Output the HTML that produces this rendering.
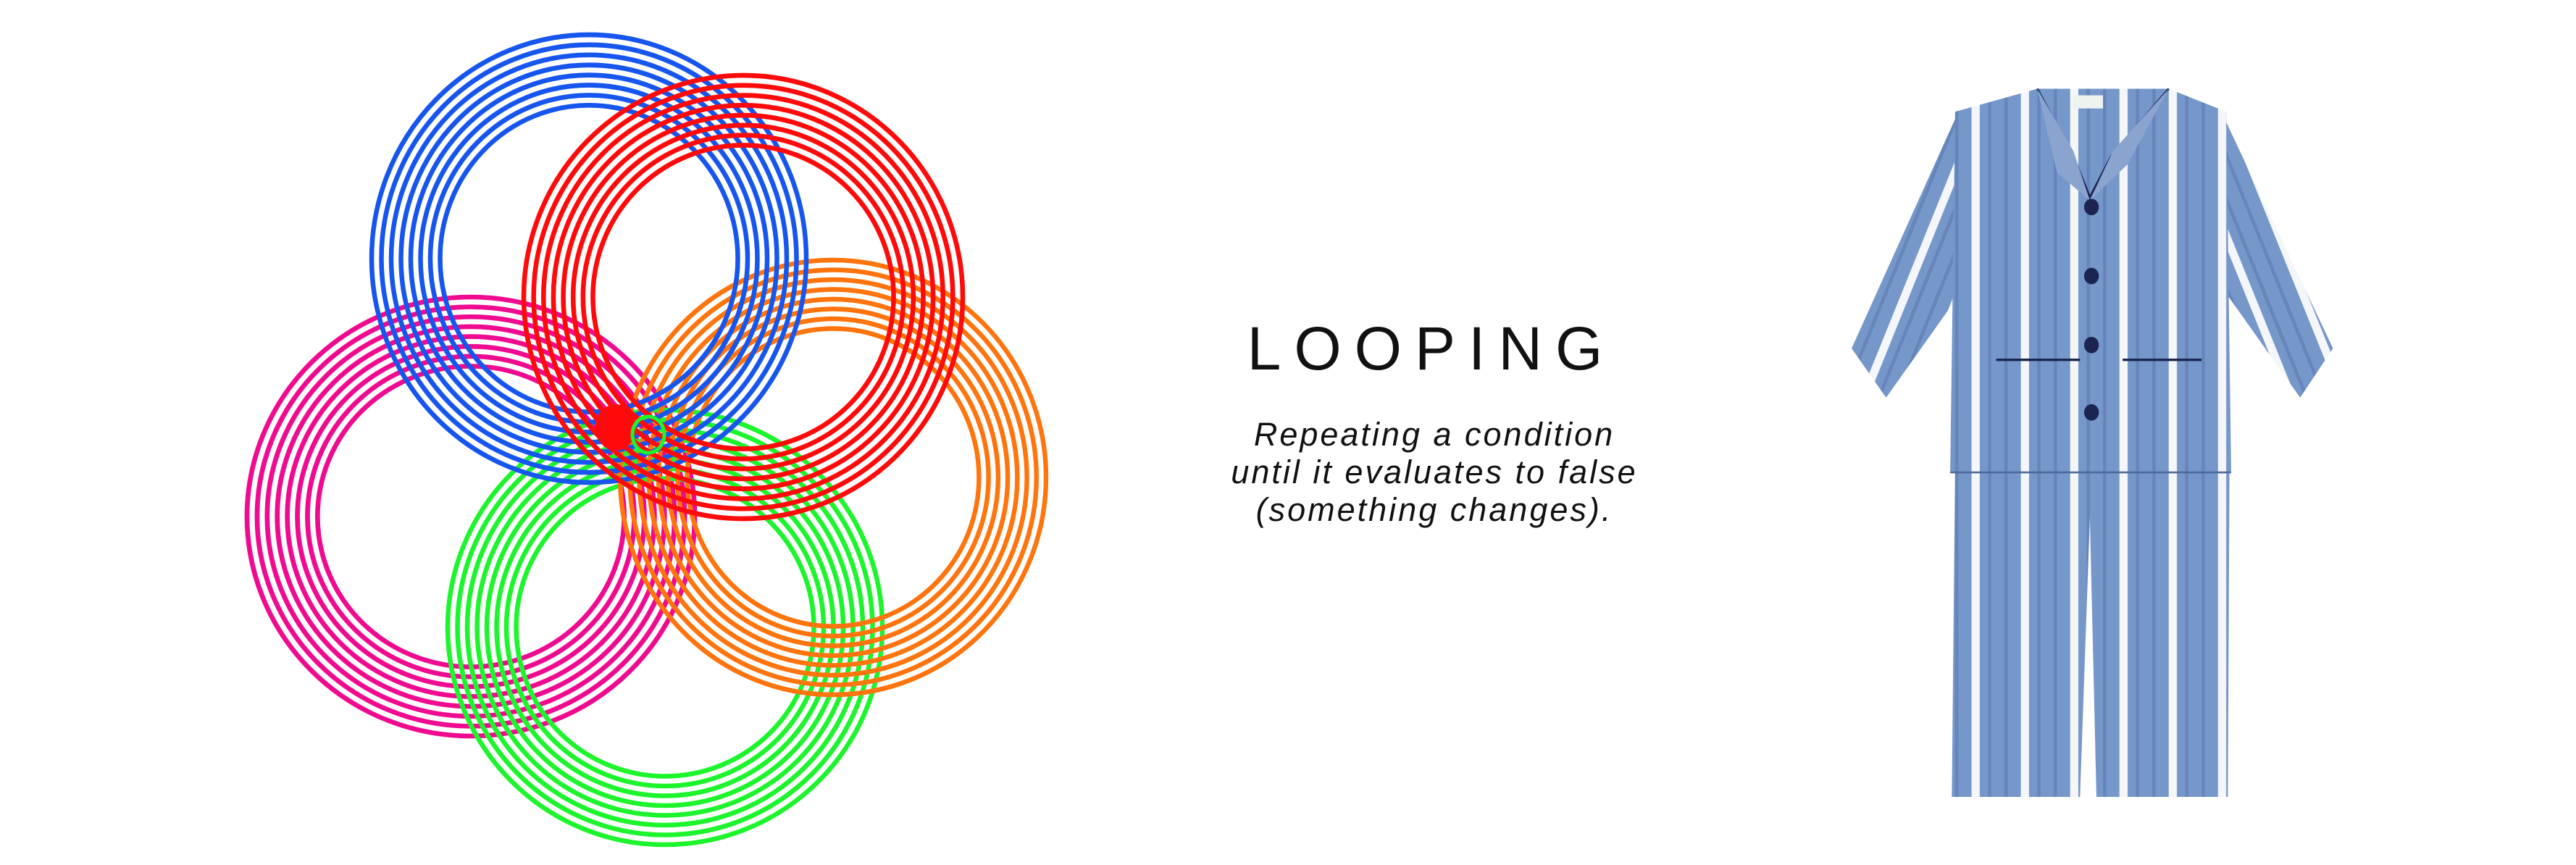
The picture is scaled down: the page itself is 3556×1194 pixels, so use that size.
<!DOCTYPE html>
<html><head><meta charset="utf-8"><style>
html,body{margin:0;padding:0;background:#fff;}
svg{display:block;}
</style></head><body>
<svg width="3556" height="1194" viewBox="0 0 3556 1194" xmlns="http://www.w3.org/2000/svg">
<defs>
<g id="rings" fill="none" stroke-width="6.5">
 <ellipse rx="300" ry="300"/><ellipse rx="286.5" ry="286.5"/><ellipse rx="273" ry="273"/><ellipse rx="259.5" ry="259.5"/>
 <ellipse rx="246" ry="246"/><ellipse rx="232.5" ry="232.5"/><ellipse rx="219" ry="219"/><ellipse rx="205.5" ry="205.5"/>
</g>
<pattern id="st" patternUnits="userSpaceOnUse" width="30" height="10">
 <rect width="30" height="10" fill="#7697ca"/>
 <rect x="0" width="5" height="10" fill="#f4f6fa"/>
 <rect x="10" width="2" height="10" fill="#6585bb"/>
 <rect x="20" width="2" height="10" fill="#6585bb"/>
</pattern>
<pattern id="stL" href="#st" patternTransform="rotate(22)"/>
<pattern id="stR" href="#st" patternTransform="rotate(-22)"/>
</defs>

<g transform="translate(650,713) scale(1.03,1.01)" stroke="#ef0a8f"><use href="#rings"/></g>
<g transform="translate(918,866) scale(1.0,1.0)" stroke="#1cf52c"><use href="#rings"/></g>
<g transform="translate(1150,659) scale(0.98,1.0)" stroke="#ff740d"><use href="#rings"/></g>
<g transform="translate(813,357) scale(1.0,1.03)" stroke="#1655ee"><use href="#rings"/></g>
<g transform="translate(1026,410) scale(1.01,1.02)" stroke="#ff0a0a"><use href="#rings"/></g>
<ellipse cx="850" cy="590" rx="28" ry="32" fill="#ff0a0a"/>
<ellipse cx="895" cy="600" rx="22" ry="25" fill="none" stroke="#1cf52c" stroke-width="5"/>

<text x="1976" y="510" text-anchor="middle" font-family="Liberation Sans, sans-serif" font-size="84" letter-spacing="18" fill="#111">LOOPING</text>
<g font-family="Liberation Sans, sans-serif" font-style="italic" font-size="45" letter-spacing="3" fill="#111" text-anchor="middle">
<text x="1980" y="615">Repeating a condition</text>
<text x="1980" y="667">until it evaluates to false</text>
<text x="1980" y="719">(something changes).</text>
</g>

<g transform="scale(2.268)">
 <path d="M1192,68 L1127,212 L1148,242 L1192,180 Z" fill="url(#stL)"/>
 <path d="M1352,68 L1420,212 L1400,242 L1356,180 Z" fill="url(#stR)"/>
 <path d="M1190,283 L1357,283 L1356,485 L1276,485 L1272,315 L1266,485 L1188,485 Z" fill="url(#st)"/>
 <path d="M1190,68 L1240,54 L1320,54 L1355,68 L1358,287 L1187,287 Z" fill="url(#st)"/>
 <line x1="1187" y1="287.5" x2="1358" y2="287.5" stroke="#4d6a9c" stroke-width="1.2"/>
 <path d="M1240,54 L1262,95 L1272,120 L1285,95 L1320,54" fill="none" stroke="#1c2552" stroke-width="1.3"/>
 <path d="M1240,54 L1252,105 L1272,122 L1262,92 Z" fill="#8aa4cf"/>
 <path d="M1320,54 L1295,100 L1272,122 L1286,92 Z" fill="#8aa4cf"/>
 <rect x="1262" y="58" width="18" height="8" fill="#eef3f0"/>
 <g fill="#1c2552">
  <ellipse cx="1273" cy="126" rx="4.5" ry="5"/><ellipse cx="1273" cy="168" rx="4.5" ry="5"/>
  <ellipse cx="1273" cy="210" rx="4.5" ry="5"/><ellipse cx="1273" cy="251" rx="4.5" ry="5"/>
 </g>
 <g stroke="#1c2552" stroke-width="1.5">
  <line x1="1215" y1="219" x2="1266" y2="219"/><line x1="1292" y1="219" x2="1340" y2="219"/>
 </g>
</g>
</svg>
</body></html>
